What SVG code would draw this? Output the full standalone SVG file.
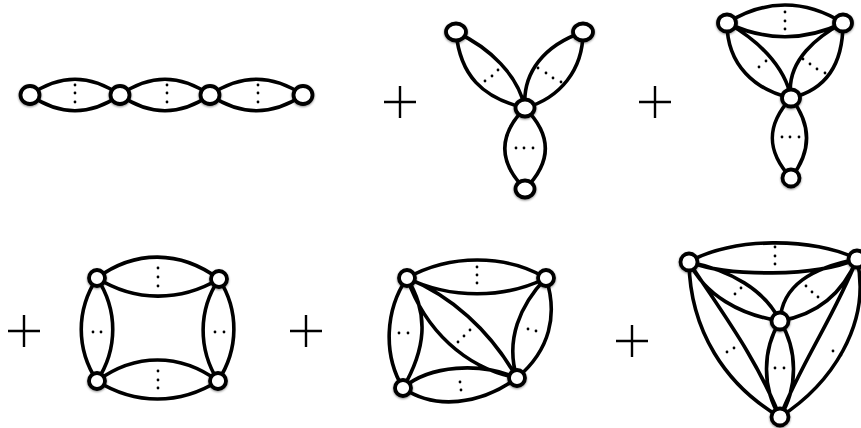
<svg xmlns="http://www.w3.org/2000/svg" width="861" height="428" viewBox="0 0 861 428">
<style>
.e{fill:none;stroke:#000;stroke-width:3.6;stroke-linecap:round}
.n{fill:#fff;stroke:#000;stroke-width:3.8;filter:url(#sh)}
.p{fill:none;stroke:#000;stroke-width:2.4}
.d{fill:#000}
#connectors{filter:url(#soft)}
</style>
<defs>
<filter id="soft" x="0" y="0" width="100%" height="100%" filterUnits="userSpaceOnUse" primitiveUnits="userSpaceOnUse"><feGaussianBlur stdDeviation="0.45"/></filter>
<filter id="sh" x="-40%" y="-40%" width="180%" height="190%"><feGaussianBlur in="SourceGraphic" stdDeviation="0.4" result="s"/><feDropShadow in="s" dx="0" dy="1" stdDeviation="1.1" flood-color="#000" flood-opacity="0.45"/></filter>
<circle id="o" class="d" r="1.4"/>
<path id="plus" class="p" d="M-16,0H16M0,-16V16"/>
</defs>
<rect width="861" height="428" fill="#fff"/>
<g id="connectors">
<path class="e" d="M30,95C60,74 90,74 120,95C90,116 60,116 30,95M120,95C150,74 180,74 210,95C180,116 150,116 120,95M210,95C241,74 272,74 303,95C272,116 241,116 210,95"/>
<path class="e" d="M456,32C460,75 482,98 525,108M456,32C490,48 518,75 525,108M583,32C583,70 560,98 525,108M583,32C545,45 522,72 525,108M525,108C498,135 498,162 525,189M525,108C552,135 552,162 525,189"/>
<path class="e" d="M727,23C765,-1 805,-1 843,23M727,23C765,41 805,41 843,23M727,23C727,65 755,90 791,98M727,23C755,38 785,65 791,98M843,23C843,65 825,90 791,98M843,23C820,35 785,60 791,98M791,98C766,125 766,151 791,178M791,98C812,125 812,151 791,178"/>
<path class="e" d="M97,278C135,250 180,250 219,279M97,278C135,302 180,302 219,279M97,381C135,353 180,353 218,381M97,381C135,405 180,405 218,381M97,278C76,310 76,349 97,381M97,278C118,310 118,349 97,381M219,279C198,310 198,349 218,381M219,279C239,310 239,349 218,381"/>
<path class="e" d="M407,278C450,254 505,254 546,278M407,278C450,299 505,299 546,278M407,278C385,310 383,355 403,388M407,278C430,315 425,350 403,388M407,278C450,295 490,330 517,378M407,278C425,330 465,368 517,378M546,278C520,305 505,340 517,378M546,278C558,315 550,350 517,378M403,388C430,365 480,362 517,378M403,388C435,410 480,405 517,378"/>
<path class="e" d="M689,262C730,237 815,237 857,259M689,262C730,277 815,277 857,259M689,262C730,270 765,290 780,321M689,262C705,295 740,315 780,321M857,259C812,268 782,285 780,321M857,259C842,295 815,315 780,321M780,321C762,350 762,388 780,417M780,321C798,350 798,388 780,417M689,262C690,330 725,385 780,417M689,262C720,310 755,355 780,417M857,259C872,325 830,385 780,417M857,259C835,315 800,365 780,417"/>
</g>
<g id="dots">
<use href="#o" x="75" y="85"/><use href="#o" x="75" y="93"/><use href="#o" x="75" y="102"/>
<use href="#o" x="167" y="85"/><use href="#o" x="167" y="93"/><use href="#o" x="167" y="102"/>
<use href="#o" x="258" y="85"/><use href="#o" x="258" y="93"/><use href="#o" x="258" y="102"/>
<use href="#o" x="485" y="81"/><use href="#o" x="492" y="76"/><use href="#o" x="498" y="70"/>
<use href="#o" x="538" y="68"/><use href="#o" x="546" y="73"/><use href="#o" x="553" y="78"/><use href="#o" x="561" y="82"/>
<use href="#o" x="516" y="148"/><use href="#o" x="524" y="148"/><use href="#o" x="533" y="148"/>
<use href="#o" x="785" y="12"/><use href="#o" x="785" y="21"/><use href="#o" x="785" y="29"/>
<use href="#o" x="759" y="67"/><use href="#o" x="766" y="61"/>
<use href="#o" x="803" y="59"/><use href="#o" x="810" y="64"/><use href="#o" x="817" y="69"/><use href="#o" x="825" y="73"/>
<use href="#o" x="782" y="137"/><use href="#o" x="790" y="137"/><use href="#o" x="799" y="137"/>
<use href="#o" x="158" y="268"/><use href="#o" x="158" y="277"/><use href="#o" x="158" y="286"/>
<use href="#o" x="158" y="371"/><use href="#o" x="158" y="380"/><use href="#o" x="158" y="388"/>
<use href="#o" x="93" y="332"/><use href="#o" x="101" y="332"/>
<use href="#o" x="215" y="332"/><use href="#o" x="224" y="332"/>
<use href="#o" x="477" y="267"/><use href="#o" x="477" y="275"/><use href="#o" x="477" y="283"/>
<use href="#o" x="399" y="333"/><use href="#o" x="408" y="333"/>
<use href="#o" x="458" y="342"/><use href="#o" x="464" y="336"/><use href="#o" x="470" y="330"/>
<use href="#o" x="528" y="329"/><use href="#o" x="536" y="331"/>
<use href="#o" x="460" y="382"/><use href="#o" x="461" y="390"/>
<use href="#o" x="775" y="247"/><use href="#o" x="775" y="256"/><use href="#o" x="775" y="264"/>
<use href="#o" x="735" y="294"/><use href="#o" x="741" y="288"/>
<use href="#o" x="806" y="286"/><use href="#o" x="812" y="292"/><use href="#o" x="818" y="297"/>
<use href="#o" x="775" y="368"/><use href="#o" x="784" y="368"/>
<use href="#o" x="727" y="352"/><use href="#o" x="734" y="348"/>
<use href="#o" x="833" y="351"/><use href="#o" x="841" y="355"/>
</g>
<g id="plus1"><use href="#plus" x="400" y="102"/></g>
<g id="plus2"><use href="#plus" x="655" y="102"/></g>
<g id="plus3"><use href="#plus" x="24" y="331"/></g>
<g id="plus4"><use href="#plus" x="306" y="331"/></g>
<g id="plus5"><use href="#plus" x="632" y="341"/></g>
<g id="a1"><ellipse class="n" cx="30" cy="95" rx="9.5" ry="9"/></g>
<g id="a2"><ellipse class="n" cx="120" cy="95" rx="9.5" ry="9"/></g>
<g id="a3"><ellipse class="n" cx="210" cy="95" rx="9.5" ry="9"/></g>
<g id="a4"><ellipse class="n" cx="303" cy="95" rx="9.5" ry="9"/></g>
<g id="b1"><ellipse class="n" cx="456" cy="32" rx="10" ry="8.5"/></g>
<g id="b2"><ellipse class="n" cx="583" cy="32" rx="10" ry="8.5"/></g>
<g id="b3"><ellipse class="n" cx="525" cy="108" rx="9.5" ry="8.5"/></g>
<g id="b4"><ellipse class="n" cx="525" cy="189" rx="9.5" ry="8.5"/></g>
<g id="c1"><ellipse class="n" cx="727" cy="23" rx="9" ry="8.5"/></g>
<g id="c2"><ellipse class="n" cx="843" cy="23" rx="9" ry="8.5"/></g>
<g id="c3"><ellipse class="n" cx="791" cy="98" rx="9" ry="8.5"/></g>
<g id="c4"><circle class="n" cx="791" cy="178" r="8.5"/></g>
<g id="d1"><circle class="n" cx="97" cy="278" r="8"/></g>
<g id="d2"><circle class="n" cx="219" cy="279" r="8"/></g>
<g id="d3"><circle class="n" cx="97" cy="381" r="8"/></g>
<g id="d4"><circle class="n" cx="218" cy="381" r="8"/></g>
<g id="e1"><circle class="n" cx="407" cy="278" r="8"/></g>
<g id="e2"><circle class="n" cx="546" cy="278" r="8"/></g>
<g id="e3"><circle class="n" cx="403" cy="388" r="8"/></g>
<g id="e4"><circle class="n" cx="517" cy="378" r="8"/></g>
<g id="f1"><circle class="n" cx="689" cy="262" r="8.5"/></g>
<g id="f2"><circle class="n" cx="857" cy="259" r="8.5"/></g>
<g id="f3"><circle class="n" cx="780" cy="321" r="8.5"/></g>
<g id="f4"><circle class="n" cx="780" cy="417" r="8.5"/></g>
</svg>
